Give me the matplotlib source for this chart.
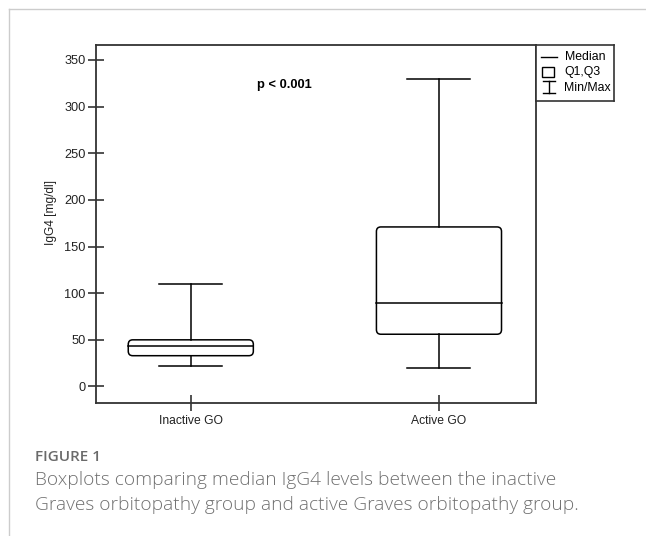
import matplotlib
matplotlib.use("Agg")
import matplotlib.pyplot as plt
from matplotlib.patches import FancyBboxPatch, Rectangle
from matplotlib.lines import Line2D

# values
groups = ["Inactive GO", "Active GO"]
mins = [22, 20]
q1s = [33, 56]
medians = [43, 90]
q3s = [50, 171]
maxs = [110, 330]
yticks = [0, 50, 100, 150, 200, 250, 300, 350]

W, H = 646, 536
fig = plt.figure(figsize=(W / 100, H / 100), dpi=100)
plt.rcParams['font.family'] = ['Liberation Sans', 'DejaVu Sans']

# card frame
fig.add_artist(Line2D([9 / W, 9 / W], [0, 1 - 9 / H], color="#cccccc", lw=1))
fig.add_artist(Line2D([9 / W, 1], [1 - 9 / H, 1 - 9 / H], color="#cccccc", lw=1))

ax = fig.add_axes([96 / W, 1 - 403 / H, 440 / W, 358 / H])
ax.set_xlim(0.618, 2.391)
ax.set_ylim(-17.7, 366)
for s in ax.spines.values():
    s.set_color("#333333")
    s.set_linewidth(1.3)

pos = [1, 2]
bw = 0.504
cap = 0.254
for i, p in enumerate(pos):
    # whiskers + caps
    ax.plot([p, p], [q3s[i], maxs[i]], color="black", lw=1.1)
    ax.plot([p, p], [mins[i], q1s[i]], color="black", lw=1.1)
    ax.plot([p - cap / 2, p + cap / 2], [maxs[i], maxs[i]], color="black", lw=1.1)
    ax.plot([p - cap / 2, p + cap / 2], [mins[i], mins[i]], color="black", lw=1.1)
    box = FancyBboxPatch((p - bw / 2, q1s[i]), bw, q3s[i] - q1s[i],
                         boxstyle="round,pad=0,rounding_size=0.018",
                         mutation_aspect=270, fc="none", ec="black", lw=1.1)
    ax.add_patch(box)
    ax.plot([p - bw / 2, p + bw / 2], [medians[i], medians[i]], color="black", lw=1.1)

ax.set_yticks(yticks)
ax.set_xticks(pos)
ax.set_xticklabels(groups)
ax.tick_params(axis="both", direction="inout", length=11, width=1.2, color="#333333",
               labelcolor="#222222")
ax.tick_params(axis="x", pad=3, labelsize=8.7)
ax.tick_params(axis="y", pad=2, labelsize=9.2)
ax.set_ylabel("IgG4 [mg/dl]", fontsize=8.6, color="#222222")
ax.yaxis.set_label_coords(-0.0886, 0.533)
fig.text(284 / W, 1 - 85 / H, "p < 0.001", fontsize=9.3, fontweight="bold",
         ha="center", va="center")

# legend box
lg = fig.add_axes([536 / W, 1 - 101 / H, 78 / W, 56 / H])
lg.set_xlim(536, 614)
lg.set_ylim(101, 45)
lg.set_xticks([])
lg.set_yticks([])
for s in lg.spines.values():
    s.set_color("#333333")
    s.set_linewidth(1.2)
lg.plot([541, 557], [57, 57], color="black", lw=1)
lg.add_patch(Rectangle((542, 67), 12, 10, fc="none", ec="black", lw=1))
lg.plot([549, 549], [81, 93], color="black", lw=1)
lg.plot([543, 555], [81, 81], color="black", lw=1)
lg.plot([543, 555], [93, 93], color="black", lw=1)
lg.text(565, 57, "Median", fontsize=8.8, va="center")
lg.text(564, 72, "Q1,Q3", fontsize=8.8, va="center")
lg.text(564, 88, "Min/Max", fontsize=8.8, va="center")

# caption
fig.text(35 / W, 1 - 457 / H, "FIGURE 1", fontsize=11, color="#6a6a6a",
         family="Open Sans", fontweight="semibold", va="center")
fig.text(35 / W, 1 - 480 / H, "Boxplots comparing median IgG4 levels between the inactive",
         fontsize=13.8, color="#707070", family="Open Sans", fontweight="light", va="center")
fig.text(35 / W, 1 - 505 / H, "Graves orbitopathy group and active Graves orbitopathy group.",
         fontsize=13.8, color="#707070", family="Open Sans", fontweight="light", va="center")

plt.savefig("out.png", dpi=100)
